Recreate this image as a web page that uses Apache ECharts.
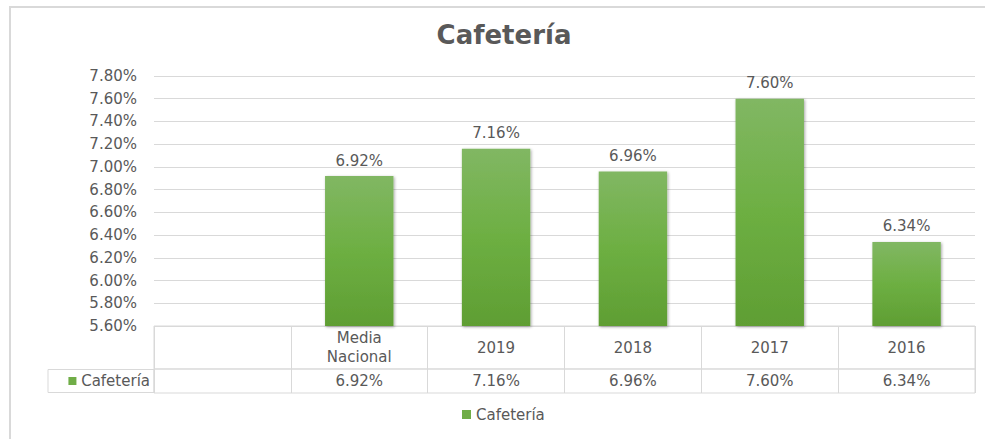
<!DOCTYPE html>
<html>
<head>
<meta charset="utf-8">
<script src="https://cdn.jsdelivr.net/npm/echarts@6/dist/echarts.min.js"></script>
<style>
html,body{margin:0;padding:0;background:#fff;}
#chart{width:985px;height:439px;}
</style>
</head>
<body>
<div id="chart"></div>
<script>
// ---- data ----
const title = 'Cafetería';
const seriesName = 'Cafetería';
const categories = ['', 'Media\nNacional', '2019', '2018', '2017', '2016'];
const values = [null, 6.92, 7.16, 6.96, 7.60, 6.34];
const yMin = 5.6, yMax = 7.8, yStep = 0.2;

const fmt = v => (v == null ? '' : v.toFixed(2) + '%');
const TXT = '#595959';
const LINE = '#d9d9d9';
const FONT = 'DejaVu Sans';

const chart = echarts.init(document.getElementById('chart'), null, {renderer: 'svg'});
chart.setOption({
  animation: false,
  backgroundColor: '#fff',
  title: {
    text: title, left: 504, textAlign: 'center', top: 22, padding: 0,
    textStyle: {fontFamily: FONT, fontSize: 26, fontWeight: 'bold', color: TXT}
  },
  legend: {
    data: [{name: seriesName, itemStyle: {color: '#70ad47'}}],
    icon: 'rect', itemWidth: 9, itemHeight: 9, itemGap: 5,
    left: 462, top: 407, padding: 0,
    textStyle: {fontFamily: FONT, fontSize: 15, color: TXT}
  },
  graphic: [{
    type: 'rect', silent: true, z: -1,
    shape: {x: 10, y: 7, width: 1100, height: 600},
    style: {fill: 'none', stroke: LINE, lineWidth: 2}
  }],
  grid: [
    {left: 154, right: 10, top: 76, height: 250},
    {left: 154, right: 10, top: 326, height: 43, show: true, borderColor: LINE, borderWidth: 1},
    {left: 154, right: 10, top: 369, height: 24, show: true, borderColor: LINE, borderWidth: 1}
  ],
  xAxis: [
    {
      type: 'category', gridIndex: 0, data: categories,
      axisLine: {show: false}, axisTick: {show: false},
      axisLabel: {
        margin: 21.5, verticalAlign: 'middle', lineHeight: 19,
        fontFamily: FONT, fontSize: 15, color: TXT, interval: 0
      }
    },
    {
      type: 'category', gridIndex: 1, data: categories,
      axisLine: {show: false}, axisTick: {show: false},
      splitLine: {show: true, interval: 0, lineStyle: {color: LINE}},
      axisLabel: {
        margin: 12, verticalAlign: 'middle', interval: 0,
        fontFamily: FONT, fontSize: 15, color: TXT,
        formatter: (v, i) => fmt(values[i])
      }
    },
    {
      type: 'category', gridIndex: 2, data: categories,
      axisLine: {show: false}, axisTick: {show: false}, axisLabel: {show: false},
      splitLine: {show: true, interval: 0, lineStyle: {color: LINE}}
    }
  ],
  yAxis: [
    {
      type: 'value', gridIndex: 0, min: yMin, max: yMax, interval: yStep,
      axisLine: {show: false}, axisTick: {show: false},
      splitLine: {lineStyle: {color: LINE}},
      axisLabel: {margin: 17, fontFamily: FONT, fontSize: 15, color: TXT, formatter: v => v.toFixed(2) + '%'}
    },
    {type: 'value', gridIndex: 1, show: false},
    {
      type: 'category', gridIndex: 2, data: [seriesName],
      axisLine: {show: false}, axisTick: {show: false}, splitLine: {show: false},
      axisLabel: {
        margin: 0, align: 'right', verticalAlign: 'middle',
        width: 102, height: 23, lineHeight: 23, padding: [0, 4, 0, 0],
        borderColor: LINE, borderWidth: 1,
        formatter: v => '{k|}{t| ' + v + '}',
        rich: {
          k: {width: 8, height: 8, backgroundColor: '#70ad47'},
          t: {fontFamily: FONT, fontSize: 15, color: TXT}
        }
      }
    }
  ],
  series: [{
    name: seriesName, type: 'bar', xAxisIndex: 0, yAxisIndex: 0,
    data: values, barWidth: '50%',
    itemStyle: {
      color: new echarts.graphic.LinearGradient(0, 0, 0, 1, [
        {offset: 0, color: '#81b763'},
        {offset: 0.5, color: '#6daf42'},
        {offset: 1, color: '#5f9e33'}
      ]),
      shadowBlur: 3, shadowColor: 'rgba(0,0,0,0.35)', shadowOffsetX: 1, shadowOffsetY: 1
    },
    label: {
      show: true, position: 'top', distance: 8,
      fontFamily: FONT, fontSize: 15, color: TXT,
      formatter: p => fmt(p.value)
    }
  }]
});
</script>
</body>
</html>
